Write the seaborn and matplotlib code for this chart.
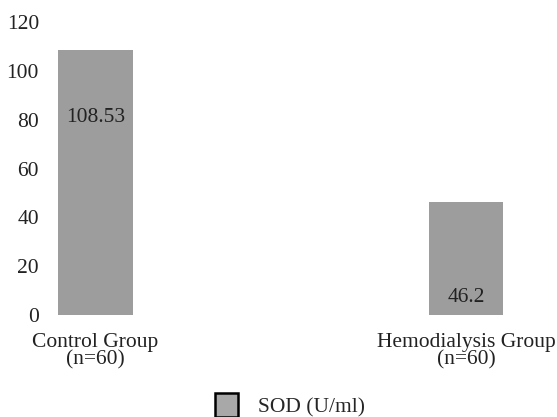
import matplotlib
matplotlib.use("Agg")
import matplotlib.pyplot as plt
import seaborn as sns
import pandas as pd
from matplotlib.patches import Patch

categories = ["Control Group\n(n=60)", "Hemodialysis Group\n(n=60)"]
values = [108.53, 46.2]
value_labels = ["108.53", "46.2"]
series_name = "SOD (U/ml)"
yticks = [0, 20, 40, 60, 80, 100, 120]

sns.set_theme(style="white")
plt.rcParams["font.family"] = ["Liberation Serif", "DejaVu Serif"]

FS = 15.5
df = pd.DataFrame({"group": categories, "value": values})

fig = plt.figure(figsize=(5.57, 4.17), dpi=100)
ax = fig.add_axes([0.09, 0.2446, 0.91, 0.7026])
bar_color = "#9d9d9d"
sns.barplot(data=df, x="group", y="value", color=bar_color, width=0.2,
            saturation=1, ax=ax, edgecolor="none")

ax.set_ylim(0, 120)
ax.set_xlim(-0.1225, 1.2456)
ax.set_yticks(yticks)
ax.set_yticklabels([str(t) for t in yticks], fontsize=FS, color="#222222")
ax.tick_params(axis="y", length=0, pad=8)
ax.tick_params(axis="x", length=0, pad=13)
for lbl in ax.get_xticklabels():
    lbl.set_fontsize(FS)
    lbl.set_color("#222222")
    lbl.set_linespacing(0.9)
ax.set_xlabel("")
ax.set_ylabel("")
for s in ax.spines.values():
    s.set_visible(False)

label_y = [80.8, 7.0]
for i, (v, t) in enumerate(zip(values, value_labels)):
    ax.text(i, label_y[i], t, ha="center", va="center", fontsize=FS, color="#222222")

handle = Patch(facecolor="#a8a8a8", edgecolor="black", linewidth=1.8)
fig.legend([handle], [series_name], loc="center", bbox_to_anchor=(0.52, 0.028),
           frameon=False, fontsize=FS, handlelength=1.1, handleheight=1.3,
           handletextpad=0.9, borderpad=0, borderaxespad=0)

fig.savefig("out.png", dpi=100)
